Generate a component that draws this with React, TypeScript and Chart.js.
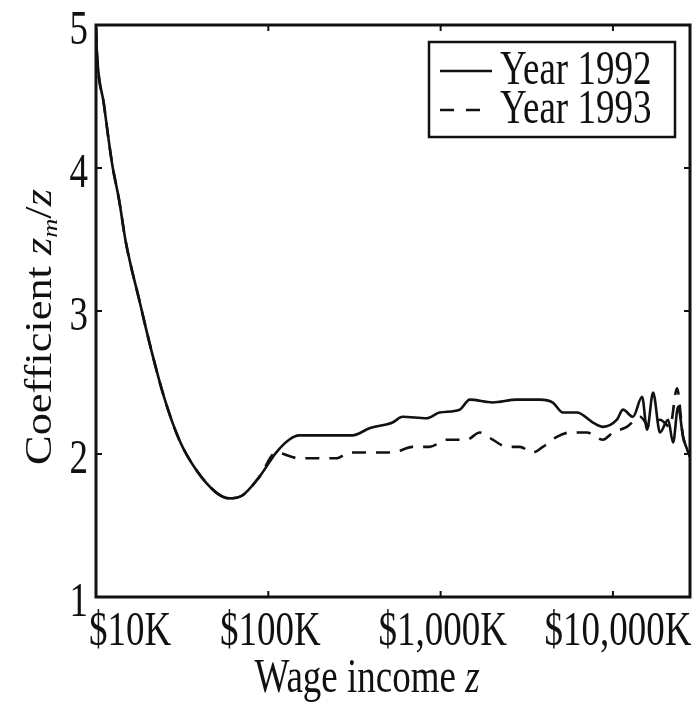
import React, { useEffect, useRef } from "react";
import { Chart, registerables } from "chart.js";

Chart.register(...registerables);

// Wage income in $K (log axis)
const income1992 = [
  10, 10.13, 11.1, 12.4, 13.6, 14.9, 17.8, 20.9, 24.8, 30.4, 38.1, 49.9, 59.3, 70.6, 88.7, 111, 132, 151, 308, 386, 526,
  601, 830, 986, 1288, 1476, 2005, 2767, 3767, 4477, 5117, 6180, 7656, 8750, 10544, 11429, 13062, 14757, 15776, 17100,
  18750, 20893, 22336, 23878, 25527, 28000,
];
const coef1992 = [
  4.98, 4.8, 4.45, 4.03, 3.78, 3.48, 3.08, 2.73, 2.4, 2.1, 1.89, 1.73, 1.69, 1.71, 1.84, 2.01, 2.1, 2.13, 2.13, 2.18,
  2.22, 2.26, 2.25, 2.29, 2.31, 2.38, 2.36, 2.38, 2.38, 2.36, 2.29, 2.29, 2.22, 2.19, 2.24, 2.31, 2.26, 2.4, 2.17, 2.43,
  2.15, 2.24, 2.08, 2.33, 2.12, 1.98,
];

const income1993 = [
  10, 10.13, 11.1, 12.4, 13.6, 14.9, 17.8, 20.9, 24.8, 30.4, 38.1, 49.9, 59.3, 70.6, 88.7, 111, 151, 248, 296, 372, 526,
  687, 863, 1084, 1416, 1687, 2005, 2421, 2877, 3428, 3917, 4721, 5623, 7063, 8750, 10000, 12050, 14355, 16406, 18750,
  21429, 23550, 25527, 28000,
];
const coef1993 = [
  4.98, 4.8, 4.45, 4.03, 3.78, 3.48, 3.08, 2.73, 2.4, 2.1, 1.89, 1.73, 1.69, 1.71, 1.84, 2.01, 1.97, 1.97, 2.01, 2.01,
  2.01, 2.05, 2.05, 2.1, 2.1, 2.15, 2.1, 2.05, 2.05, 2.01, 2.05, 2.12, 2.15, 2.15, 2.1, 2.15, 2.19, 2.26, 2.19, 2.24,
  2.19, 2.46, 2.12, 1.98,
];

const seriesNames = ["Year 1992", "Year 1993"];
const yTicks = [1, 2, 3, 4, 5];
const xTicks = [10, 100, 1000, 10000];
const xTickLabels = ["$10K", "$100K", "$1,000K", "$10,000K"];
const xTitle = "Wage income ";
const yTitle = "Coefficient ";

const FONT = '"Liberation Serif", "Times New Roman", serif';
const FS = 37;
const SY = 1.32;
const INK = "#111";

type Part = { t: string; italic?: boolean; scale?: number; dy?: number };

function partsWidth(ctx: CanvasRenderingContext2D, parts: Part[]) {
  let w = 0;
  for (const p of parts) {
    ctx.font = `${p.italic ? "italic " : ""}${Math.round(FS * (p.scale || 1))}px ${FONT}`;
    w += ctx.measureText(p.t).width;
  }
  return w;
}

function drawParts(ctx: CanvasRenderingContext2D, parts: Part[], x: number, y: number, align: "left" | "center" | "right") {
  const w = partsWidth(ctx, parts);
  let cx = align === "left" ? x : align === "center" ? x - w / 2 : x - w;
  ctx.textAlign = "left";
  ctx.textBaseline = "alphabetic";
  for (const p of parts) {
    ctx.font = `${p.italic ? "italic " : ""}${Math.round(FS * (p.scale || 1))}px ${FONT}`;
    ctx.fillText(p.t, cx, y + (p.dy || 0));
    cx += ctx.measureText(p.t).width;
  }
}

function stretched(ctx: CanvasRenderingContext2D, parts: Part[], x: number, y: number, align: "left" | "center" | "right") {
  ctx.save();
  ctx.translate(x, y);
  ctx.scale(1, SY);
  drawParts(ctx, parts, 0, 0, align);
  ctx.restore();
}

const decorPlugin = {
  id: "decor",
  afterDatasetsDraw(chart: any) {
    const ctx: CanvasRenderingContext2D = chart.ctx;
    const { left, right, top, bottom } = chart.chartArea;
    const xs = chart.scales.x;
    const ys = chart.scales.y;
    ctx.save();
    ctx.fillStyle = INK;
    ctx.strokeStyle = INK;

    // frame
    ctx.lineWidth = 3;
    ctx.strokeRect(left, top, right - left, bottom - top);

    // inward ticks
    ctx.lineWidth = 2;
    ctx.beginPath();
    for (const v of yTicks) {
      const py = ys.getPixelForValue(v);
      ctx.moveTo(left, py);
      ctx.lineTo(left + 6, py);
      ctx.moveTo(right, py);
      ctx.lineTo(right - 6, py);
    }
    for (const v of xTicks) {
      const px = xs.getPixelForValue(v);
      ctx.moveTo(px, bottom);
      ctx.lineTo(px, bottom - 6);
      ctx.moveTo(px, top);
      ctx.lineTo(px, top + 6);
    }
    ctx.stroke();

    // y tick labels
    for (const v of yTicks) {
      const py = ys.getPixelForValue(v);
      stretched(ctx, [{ t: String(v) }], left - 8, py + 19, "right");
    }
    // x tick labels
    xTicks.forEach((v, i) => {
      const px = xs.getPixelForValue(v);
      if (i === 0) stretched(ctx, [{ t: xTickLabels[i] }], px - 7, bottom + 48, "left");
      else if (i === xTicks.length - 1) stretched(ctx, [{ t: xTickLabels[i] }], px + 5, bottom + 48, "center");
      else stretched(ctx, [{ t: xTickLabels[i] }], px + 2, bottom + 48, "center");
    });

    // x title
    stretched(ctx, [{ t: xTitle }, { t: "z", italic: true }], 367, 692, "center");

    // y title (rotated)
    ctx.save();
    ctx.translate(51, 327);
    ctx.rotate(-Math.PI / 2);
    ctx.scale(1.2, 1);
    drawParts(
      ctx,
      [
        { t: yTitle },
        { t: "z", italic: true },
        { t: "m", italic: true, scale: 0.6, dy: 6 },
        { t: "/", italic: false },
        { t: "z", italic: true },
      ],
      0,
      0,
      "center"
    );
    ctx.restore();

    // legend
    const lx = 429, ly = 42, lw = 246, lh = 95;
    ctx.fillStyle = "#fff";
    ctx.fillRect(lx, ly, lw, lh);
    ctx.fillStyle = INK;
    ctx.lineWidth = 2.5;
    ctx.strokeRect(lx, ly, lw, lh);
    const rows = [71, 110];
    seriesNames.forEach((name, i) => {
      ctx.save();
      ctx.lineWidth = 2.5;
      ctx.setLineDash(i === 0 ? [] : [14, 12]);
      ctx.beginPath();
      ctx.moveTo(440, rows[i]);
      ctx.lineTo(492, rows[i]);
      ctx.stroke();
      ctx.restore();
      stretched(ctx, [{ t: name }], 500, rows[i] + 13, "left");
    });

    ctx.restore();
  },
};

export default function App() {
  const ref = useRef<HTMLCanvasElement | null>(null);
  useEffect(() => {
    document.body.style.margin = "0";
    const canvas = ref.current!;
    const chart = new Chart(canvas, {
      type: "line",
      data: {
        datasets: [
          {
            label: seriesNames[0],
            data: income1992.map((x, i) => ({ x, y: coef1992[i] })),
            borderColor: INK,
            borderWidth: 2.6,
            pointRadius: 0,
            cubicInterpolationMode: "monotone",
            fill: false,
          },
          {
            label: seriesNames[1],
            data: income1993.map((x, i) => ({ x, y: coef1993[i] })),
            borderColor: INK,
            borderWidth: 2.6,
            borderDash: [14, 10],
            pointRadius: 0,
            cubicInterpolationMode: "monotone",
            fill: false,
          },
        ],
      },
      options: {
        responsive: false,
        animation: false,
        events: [],
        layout: { padding: { left: 96, right: 7, top: 25, bottom: 112 } },
        plugins: { legend: { display: false }, title: { display: false }, tooltip: { enabled: false } },
        scales: {
          x: { type: "logarithmic", min: 10, max: 28000, display: false },
          y: { type: "linear", min: 1, max: 5, display: false },
        },
      },
      plugins: [decorPlugin],
    });
    return () => chart.destroy();
  }, []);
  return (
    <div style={{ width: 697, height: 709, background: "#fff" }}>
      <canvas ref={ref} width={697} height={709} style={{ display: "block" }} />
    </div>
  );
}
